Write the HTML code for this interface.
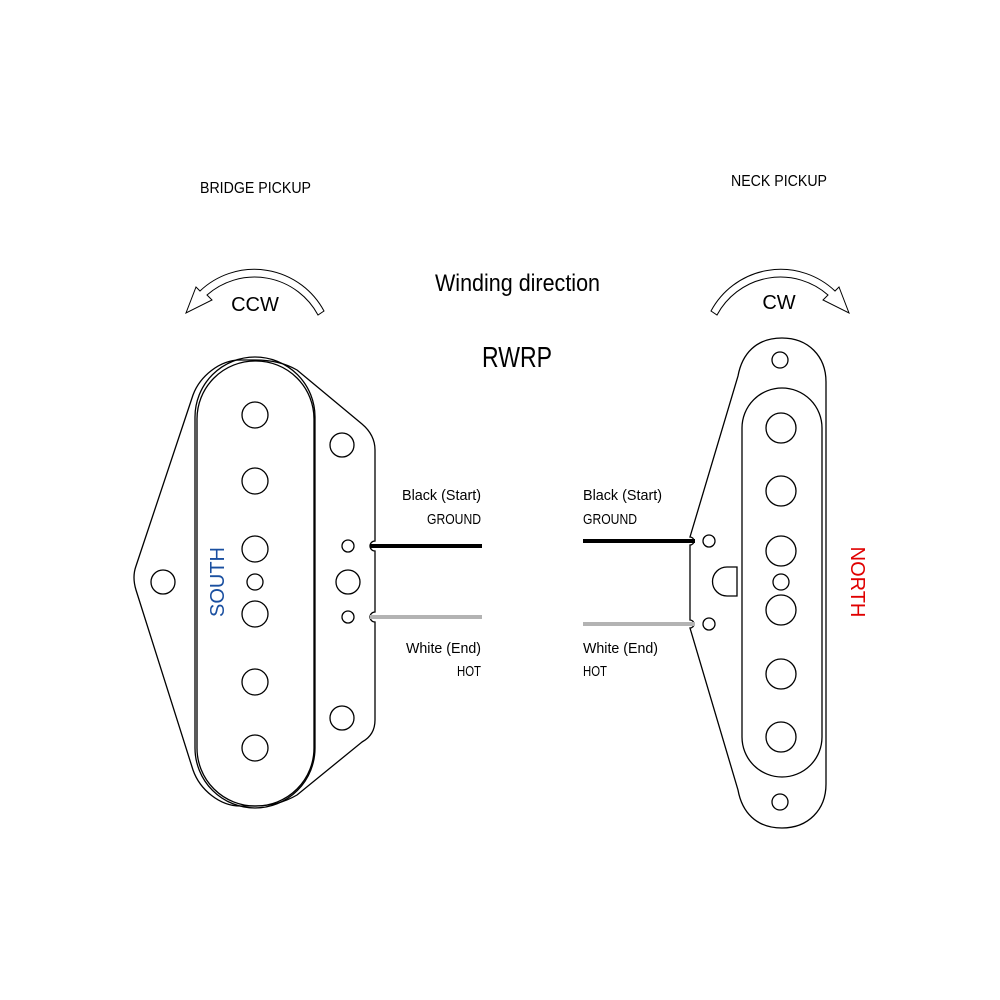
<!DOCTYPE html>
<html><head><meta charset="utf-8"><style>
html,body{margin:0;padding:0;background:#fff;}
svg{display:block;}
text{font-family:"Liberation Sans",sans-serif;}
</style></head><body>
<svg width="1000" height="1000" viewBox="0 0 1000 1000" xmlns="http://www.w3.org/2000/svg">
<rect width="1000" height="1000" fill="#fff"/>
<g fill="#000">
<text x="200" y="193" font-size="16" textLength="111" lengthAdjust="spacingAndGlyphs">BRIDGE PICKUP</text>
<text x="731" y="186" font-size="16" textLength="96" lengthAdjust="spacingAndGlyphs">NECK PICKUP</text>
<text x="435" y="291" font-size="24" textLength="165" lengthAdjust="spacingAndGlyphs">Winding direction</text>
<text x="482" y="367" font-size="29" textLength="70" lengthAdjust="spacingAndGlyphs">RWRP</text>
<text x="255" y="311" font-size="20" text-anchor="middle">CCW</text>
<text x="779" y="309" font-size="20" text-anchor="middle">CW</text>
<g font-size="15">
<text x="402" y="500" textLength="79" lengthAdjust="spacingAndGlyphs">Black (Start)</text>
<text x="427" y="524" textLength="54" lengthAdjust="spacingAndGlyphs">GROUND</text>
<text x="406" y="653" textLength="75" lengthAdjust="spacingAndGlyphs">White (End)</text>
<text x="457" y="676" textLength="24" lengthAdjust="spacingAndGlyphs">HOT</text>
<text x="583" y="500" textLength="79" lengthAdjust="spacingAndGlyphs">Black (Start)</text>
<text x="583" y="524" textLength="54" lengthAdjust="spacingAndGlyphs">GROUND</text>
<text x="583" y="653" textLength="75" lengthAdjust="spacingAndGlyphs">White (End)</text>
<text x="583" y="676" textLength="24" lengthAdjust="spacingAndGlyphs">HOT</text>
</g>
</g>
<text transform="translate(224,582) rotate(-90)" font-size="20" fill="#1a4fa0" text-anchor="middle">SOUTH</text>
<text transform="translate(851,582) rotate(90)" font-size="20" fill="#e00000" text-anchor="middle">NORTH</text>

<g fill="none" stroke="#000" stroke-width="1.3">
<path d="M318,315 A72 72 0 0 0 207,295 L212,300 L186,313 L196,287 L200,291 A79 79 0 0 1 324,311 Z" stroke-width="1"/>
<g transform="translate(1035,0) scale(-1,1)"><path d="M318,315 A72 72 0 0 0 207,295 L212,300 L186,313 L196,287 L200,291 A79 79 0 0 1 324,311 Z" stroke-width="1"/></g>

<path d="M255,360 C272,360 285,363 297,370 L362,424 Q375,435 375,450 L375,541 A4 4 0 0 0 375,551 L375,612 A4 4 0 0 0 375,622 L375,720 Q375,735 362,742 L297,795 C285,802 272,806 255,806 L240,806 C220,806 200,790 193,770 L136,590 Q132,577 136,566 L193,395 C200,376 220,360 240,360 Z"/>
<rect x="195" y="357" width="120" height="451" rx="60" ry="60"/>
<rect x="197" y="361" width="117" height="445" rx="58" ry="58"/>
<circle cx="255" cy="415" r="13"/><circle cx="255" cy="481" r="13"/><circle cx="255" cy="549" r="13"/>
<circle cx="255" cy="614" r="13"/><circle cx="255" cy="682" r="13"/><circle cx="255" cy="748" r="13"/>
<circle cx="255" cy="582" r="8"/>
<circle cx="163" cy="582" r="12"/>
<circle cx="342" cy="445" r="12"/><circle cx="342" cy="718" r="12"/><circle cx="348" cy="582" r="12"/>
<circle cx="348" cy="546" r="6"/><circle cx="348" cy="617" r="6"/>

<path d="M782,338 C808,338 826,356 826,382 L826,784 C826,810 808,828 782,828 C756,828 742,812 738,790 L690,628 A4 4 0 0 0 690,620 L690,545 A4 4 0 0 0 690,537 L738,376 C742,354 756,338 782,338 Z"/>
<rect x="742" y="388" width="80" height="389" rx="40" ry="40"/>
<circle cx="781" cy="428" r="15"/><circle cx="781" cy="491" r="15"/><circle cx="781" cy="551" r="15"/>
<circle cx="781" cy="610" r="15"/><circle cx="781" cy="674" r="15"/><circle cx="781" cy="737" r="15"/>
<circle cx="781" cy="582" r="8"/>
<circle cx="780" cy="360" r="8"/><circle cx="780" cy="802" r="8"/>
<circle cx="709" cy="541" r="6"/><circle cx="709" cy="624" r="6"/>
<path d="M737,567 L727,567 A14 14 0 0 0 727,596 L737,596 Z"/>
</g>
<line x1="370" y1="546" x2="482" y2="546" stroke="#000" stroke-width="4"/>
<line x1="370" y1="617" x2="482" y2="617" stroke="#b3b3b3" stroke-width="4"/>
<line x1="583" y1="541" x2="695" y2="541" stroke="#000" stroke-width="4"/>
<line x1="583" y1="624" x2="695" y2="624" stroke="#b3b3b3" stroke-width="4"/>
</svg>
</body></html>
